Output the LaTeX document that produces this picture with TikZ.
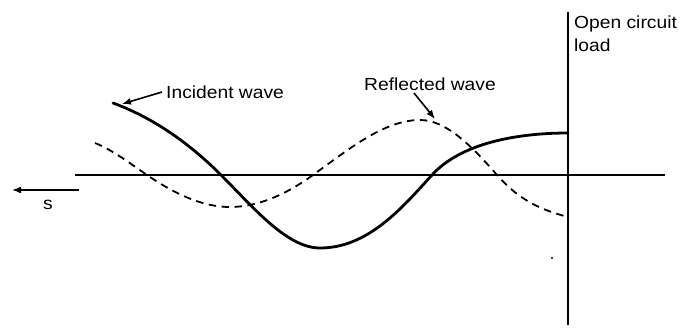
\documentclass[tikz,border=0pt]{standalone}
\usepackage{fontspec}
\newfontfamily\lab[FakeStretch=1.1]{Liberation Sans}
\usetikzlibrary{arrows.meta}
\begin{document}
\begin{tikzpicture}[x=1pt,y=-1pt,
  axis/.style={line width=1.4pt},
  incident/.style={line width=2.8pt, line cap=round},
  reflected/.style={line width=1.8pt, dash pattern=on 7.5pt off 5.5pt},
  lbl/.style={font=\lab\fontsize{17.5}{20}\selectfont, inner sep=0pt},
  pointer/.style={line width=1.6pt, -{Latex[length=9pt,width=7pt]}}]
\useasboundingbox (0,0) rectangle (683,329);
% axes
\coordinate (hl) at (75,175);
\coordinate (hr) at (665,175);
\coordinate (vt) at (568,12);
\coordinate (vb) at (568,325);
\draw[axis] (hl) -- (hr);
\draw[axis] (vt) -- (vb);
% incident wave
\draw[incident] (113,103) .. controls (149,116.3) and (185,139) .. (221,175)
  .. controls (254,208) and (287,248) .. (320,248)
  .. controls (368,248) and (402,208) .. (432,175)
  .. controls (462,142) and (520,133) .. (568,133);
% reflected wave
\draw[reflected] (95,143) .. controls (112.3,149.9) and (129.7,163.2) .. (147,175)
  .. controls (174.7,193.8) and (202.3,207) .. (230,207)
  .. controls (257.7,207) and (285.3,194.9) .. (313,175)
  .. controls (348.7,149.3) and (384.3,120) .. (420,120)
  .. controls (445.7,120) and (471.3,145.4) .. (497,175)
  .. controls (520.7,202.1) and (544.3,210.6) .. (568,217);
% labels
\node[lbl, anchor=west] (inc) at (166,92) {Incident wave};
\coordinate (incpt) at (122,104);
\coordinate (incs) at (162,92);
\draw[pointer] (incs) -- (incpt);
\node[lbl, anchor=west] (ref) at (364,84) {Reflected wave};
\coordinate (refpt) at (435,119);
\coordinate (refs) at (414,93);
\draw[pointer] (refs) -- (refpt);
\node[lbl, anchor=west] (oc) at (574,24) {Open circuit};
\node[lbl, anchor=west] (ld) at (574,45) {load};
% s direction
\coordinate (sr) at (79,190);
\coordinate (sl) at (12,190);
\draw[pointer] (sr) -- (sl);
\node[lbl, anchor=center] (s) at (48,205) {s};
% stray dot
\fill (552,258) circle (1.2pt);
\end{tikzpicture}
\end{document}
